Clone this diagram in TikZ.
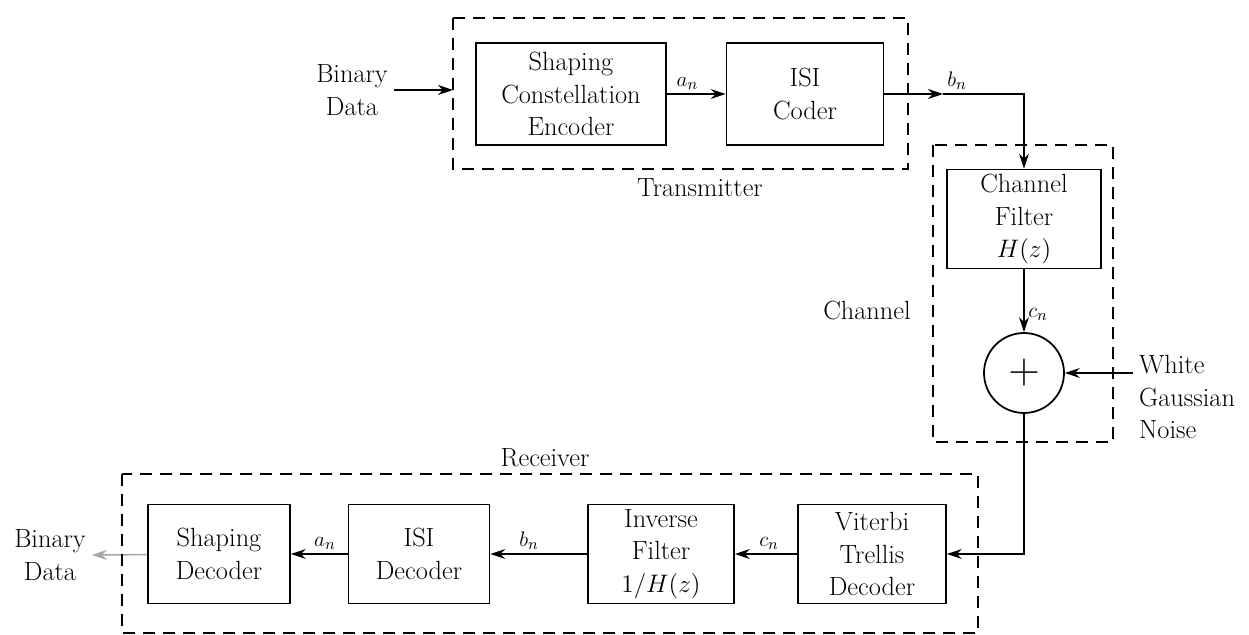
\documentclass[tikz,border=0pt]{standalone}
\usetikzlibrary{arrows.meta}
\begin{document}
\begin{tikzpicture}[x=0.02cm, y=-0.02cm,
    every node/.style={font=\fontsize{15}{18.5}\selectfont},
    block/.style={draw, rectangle, line width=1pt, align=center, inner ysep=0.5pt, minimum height=1.98cm},
    frame/.style={line width=0.9pt, dash pattern=on 0.24cm off 0.16cm},
    sig/.style={-{Stealth[length=0.3cm, width=0.2cm]}, line width=0.9pt},
    lbl/.style={font=\fontsize{13}{15}\selectfont, inner sep=2pt}]
    \useasboundingbox (0,0) rectangle (1249,635);

    % Transmitter nodes
    \node[align=center] (bdin) at (352,90) {Binary\\Data};
    \node[block, minimum width=3.8cm, minimum height=2.04cm] (enc) at (571,94) {Shaping\\Constellation\\Encoder};
    \node[block, minimum width=3.14cm, minimum height=2.04cm] (isic) at (805,94) {ISI\\Coder};

    % Channel nodes
    \node[block, minimum width=3.08cm] (chf) at (1024,219) {Channel\\Filter\\$H(z)$};
    \node[draw, circle, line width=1pt, minimum size=1.6cm, inner sep=0pt, font=\fontsize{24}{24}\selectfont] (sum) at (1024,373) {$+$};
    \node[align=left, anchor=west] (noise) at (1133,397) {White\\Gaussian\\Noise};

    % Receiver nodes
    \node[block, minimum width=2.96cm] (vit) at (872,554) {Viterbi\\Trellis\\Decoder};
    \node[block, minimum width=2.92cm] (inv) at (661,554) {Inverse\\Filter\\$1/H(z)$};
    \node[block, minimum width=2.82cm] (isid) at (419,554) {ISI\\Decoder};
    \node[block, minimum width=2.84cm] (shd) at (219,554) {Shaping\\Decoder};
    \node[align=center] (bdout) at (50,555) {Binary\\Data};

    % Arrows
    \draw[sig] (bdin.east) -- (453,90);
    \draw[sig] (enc) -- (isic) node[lbl, pos=0.35, above] {$a_n$};
    \coordinate (bn) at (943,94);
    \draw[sig] (isic) -- (bn) node[lbl, above right] {$b_n$};
    \draw[sig] (bn) -| (chf);
    \draw[sig] (chf) -- (sum) node[lbl, pos=0.72, right] {$c_n$};
    \draw[sig] (noise.west |- sum) -- (sum);
    \draw[sig] (sum) |- (vit);
    \draw[sig] (vit) -- (inv) node[lbl, pos=0.45, above] {$c_n$};
    \draw[sig] (inv) -- (isid) node[lbl, pos=0.6, above] {$b_n$};
    \draw[sig] (isid) -- (shd) node[lbl, pos=0.4, above] {$a_n$};
    \draw[sig, gray!70] (shd) -- (bdout.east);

    % Dashed frames
    \draw[frame] (453,18) rectangle (908,169);
    \node at (700,188) {Transmitter};
    \draw[frame] (933,145) rectangle (1113,442);
    \node at (867,310) {Channel};
    \draw[frame] (122,474) rectangle (978,633);
    \node at (545,458) {Receiver};
\end{tikzpicture}
\end{document}
